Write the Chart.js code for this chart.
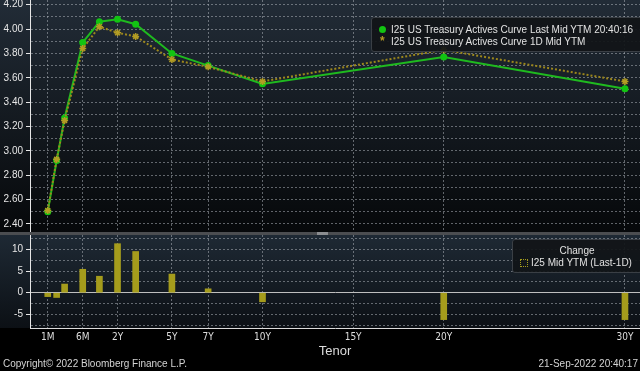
<!DOCTYPE html>
<html>
<head>
<meta charset="utf-8">
<script src="https://cdn.jsdelivr.net/npm/chart.js@4.4.0/dist/chart.umd.min.js"></script>
<style>
  html, body { margin: 0; padding: 0; background: #000; width: 640px; height: 371px; overflow: hidden; font-family: "Liberation Sans", Arial, sans-serif; }
  #topBg { position: absolute; left: 0; top: 0; width: 640px; height: 232px; background: linear-gradient(#222c37, #06080a); }
  #sep { position: absolute; left: 0; top: 232px; width: 640px; height: 3px; background: #4b4d50; }
  #sep .grip { position: absolute; left: 317px; top: 0; width: 11px; height: 3px; background: #8b8d90; }
  #bottomBg { position: absolute; left: 0; top: 235px; width: 640px; height: 93px; background: linear-gradient(#1e2934, #0c1015); }
  #curveChart { position: absolute; left: 0; top: 0; }
  #changeChart { position: absolute; left: 0; top: 235px; }
  .legend { position: absolute; background: rgba(17, 20, 24, 0.93); border: 1px solid #3a3f45; border-radius: 3px; color: #e2e2e2; font-size: 10px; line-height: 12px; box-sizing: border-box; }
  .legend .row { position: relative; white-space: nowrap; }
  .dot { position: absolute; width: 7px; height: 7px; border-radius: 50%; }
  .star { position: absolute; font-size: 12px; font-weight: bold; }
  .sq { position: absolute; width: 6px; height: 6px; border: 1px dotted #a59c1c; }
  #curveLegend { left: 371px; top: 17px; width: 275px; height: 35px; padding: 6px 0 0 19px; }
  #changeLegend { left: 512px; top: 239px; width: 134px; height: 34px; padding: 5px 0 0 18px; }
  #changeLegend .title { text-align: center; margin-left: -18px; width: 128px; }
  .foot { position: absolute; top: 358px; font-size: 10px; color: #d4d4d4; }
</style>
</head>
<body>
<div id="topBg"></div>
<div id="sep"><div class="grip"></div></div>
<div id="bottomBg"></div>
<canvas id="curveChart" width="640" height="232"></canvas>
<canvas id="changeChart" width="640" height="136"></canvas>
<div id="curveLegend" class="legend"></div>
<div id="changeLegend" class="legend"></div>
<div class="foot" style="left:3px">Copyright© 2022 Bloomberg Finance L.P.</div>
<div class="foot" style="right:2px">21-Sep-2022 20:40:17</div>
<script>
// tenors and where each one sits on Bloomberg's tenor axis
const tenors = ['1M', '2M', '3M', '6M', '1Y', '2Y', '3Y', '5Y', '7Y', '10Y', '20Y', '30Y'];
const tenorX = [-1.85, -1.36, -0.92, 0.08, 1, 2, 3, 5, 7, 10, 20, 30];

// yields (%)
const lastYield = [2.50, 2.92, 3.27, 3.89, 4.06, 4.08, 4.04, 3.80, 3.70, 3.55, 3.77, 3.51];
const priorYield = [2.51, 2.93, 3.25, 3.84, 4.02, 3.97, 3.94, 3.75, 3.69, 3.57, 3.83, 3.57];

// change in bp (Last - 1D)
const changeBp = [-0.9, -1.1, 2.0, 5.4, 3.8, 11.3, 9.5, 4.3, 0.9, -2.1, -6.2, -6.2];

// axis ticks
const axisTenors = ['1M', '6M', '2Y', '5Y', '7Y', '10Y', '15Y', '20Y', '30Y'];
const axisTenorX = [-1.85, 0.08, 2, 5, 7, 10, 15, 20, 30];
const yieldTicks = [2.4, 2.5, 2.6, 2.7, 2.8, 2.9, 3.0, 3.1, 3.2, 3.3, 3.4, 3.5, 3.6, 3.7, 3.8, 3.9, 4.0, 4.1, 4.2];
const changeTicks = [-7.5, -5, -2.5, 0, 2.5, 5, 7.5, 10, 12.5];

const gridGray = 'rgba(170, 175, 182, 0.55)';
const labelFont = { family: '"Liberation Sans", Arial, sans-serif', size: 10 };
const xRange = { min: -2.83, max: 30.83 };

Chart.defaults.color = '#e6e6e6';

// no extra room for half labels at the ends of an axis
function noEdgePadding(scale) {
    scale.paddingTop = 0;
    scale.paddingBottom = 0;
    scale.paddingLeft = 0;
    scale.paddingRight = 0;
}

function xAxis(showLabels) {
    return {
        type: 'linear',
        min: xRange.min,
        max: xRange.max,
        offset: false,
        afterBuildTicks: scale => { scale.ticks = axisTenorX.map(v => ({ value: v })); },
        afterFit: scale => {
            scale.height = showLabels ? 43 : 0;
            noEdgePadding(scale);
        },
        grid: { color: gridGray, drawTicks: false, offset: false },
        border: { display: showLabels, color: '#dcdcdc', width: 1, dash: [2, 2] },
        ticks: {
            display: showLabels,
            autoSkip: false,
            maxRotation: 0,
            padding: 3,
            color: '#dedede',
            font: { family: '"Liberation Sans Narrow", "DejaVu Sans Condensed", sans-serif', size: 10 },
            callback: value => {
                const i = axisTenorX.indexOf(value);
                return i >= 0 ? axisTenors[i] : '';
            }
        },
        title: {
            display: showLabels,
            text: 'Tenor',
            color: '#dcdcdc',
            font: { family: '"Liberation Sans", Arial, sans-serif', size: 13 },
            padding: { top: 0, bottom: 12 }
        }
    };
}

const curveChart = new Chart(document.getElementById('curveChart'), {
    type: 'line',
    data: {
        datasets: [{
            label: 'I25 US Treasury Actives Curve Last Mid YTM 20:40:16',
            data: tenorX.map((x, i) => ({ x, y: lastYield[i] })),
            borderColor: '#1fba1f',
            borderWidth: 2,
            pointRadius: 3.5,
            pointBackgroundColor: '#12c412',
            pointBorderWidth: 0,
            order: 1
        }, {
            label: 'I25 US Treasury Actives Curve 1D Mid YTM',
            data: tenorX.map((x, i) => ({ x, y: priorYield[i] })),
            borderColor: '#9c871c',
            borderWidth: 2,
            borderDash: [2, 2],
            pointStyle: 'star',
            pointRadius: 3.5,
            pointBorderColor: '#b39d24',
            pointBorderWidth: 1.5,
            order: 0
        }]
    },
    options: {
        responsive: false,
        animation: false,
        layout: { padding: 0, autoPadding: false },
        plugins: { legend: { display: false }, tooltip: { enabled: false } },
        scales: {
            x: xAxis(false),
            y: {
                min: 2.333,
                max: 4.239,
                afterBuildTicks: scale => { scale.ticks = yieldTicks.map(v => ({ value: v })); },
                afterFit: scale => {
                    scale.width = 30;
                    noEdgePadding(scale);
                },
                grid: {
                    color: gridGray,
                    tickLength: 4,
                    tickColor: ctx => Math.round(ctx.tick.value * 100) % 20 === 0 ? '#e6e6e6' : 'rgba(0,0,0,0)'
                },
                border: { color: '#e6e6e6', width: 1, dash: [2, 2] },
                ticks: {
                    autoSkip: false,
                    padding: 3,
                    font: labelFont,
                    callback: v => Math.round(v * 100) % 20 === 0 ? v.toFixed(2) : ''
                }
            }
        }
    }
});

const changeChart = new Chart(document.getElementById('changeChart'), {
    type: 'bar',
    data: {
        datasets: [{
            label: 'I25 Mid YTM (Last-1D)',
            data: tenorX.map((x, i) => ({ x, y: changeBp[i] })),
            backgroundColor: '#a59c1c',
            barThickness: 6
        }]
    },
    options: {
        responsive: false,
        animation: false,
        layout: { padding: 0, autoPadding: false },
        plugins: { legend: { display: false }, tooltip: { enabled: false } },
        scales: {
            x: xAxis(true),
            y: {
                min: -8.13,
                max: 13.3,
                afterBuildTicks: scale => { scale.ticks = changeTicks.map(v => ({ value: v })); },
                afterFit: scale => {
                    scale.width = 30;
                    noEdgePadding(scale);
                },
                grid: {
                    color: ctx => ctx.tick && ctx.tick.value === 0 ? '#bfbfbf' : gridGray,
                    tickLength: 4,
                    tickColor: ctx => ctx.tick.value % 5 === 0 ? '#e6e6e6' : 'rgba(0,0,0,0)'
                },
                border: {
                    color: '#e6e6e6',
                    width: 1,
                    dash: ctx => ctx.tick && ctx.tick.value === 0 ? [] : [2, 2]
                },
                ticks: {
                    autoSkip: false,
                    padding: 3,
                    font: labelFont,
                    callback: v => v % 5 === 0 ? String(v) : ''
                }
            }
        }
    }
});

// html legends built from the datasets
const curveLegend = document.getElementById('curveLegend');
curveChart.data.datasets.forEach((ds, i) => {
    const row = document.createElement('div');
    row.className = 'row';
    const mark = document.createElement('span');
    if (i === 0) {
        mark.className = 'dot';
        mark.style.cssText = 'left:-12px;top:2px;background:' + ds.pointBackgroundColor;
    } else {
        mark.className = 'star';
        mark.textContent = '*';
        mark.style.cssText = 'left:-11px;top:-1px;color:' + ds.pointBorderColor;
    }
    row.appendChild(mark);
    row.appendChild(document.createTextNode(ds.label));
    curveLegend.appendChild(row);
});

const changeLegend = document.getElementById('changeLegend');
const title = document.createElement('div');
title.className = 'title';
title.textContent = 'Change';
changeLegend.appendChild(title);
changeChart.data.datasets.forEach(ds => {
    const row = document.createElement('div');
    row.className = 'row';
    const mark = document.createElement('span');
    mark.className = 'sq';
    mark.style.cssText = 'left:-11px;top:2px;';
    row.appendChild(mark);
    row.appendChild(document.createTextNode(ds.label));
    changeLegend.appendChild(row);
});
</script>
</body>
</html>
